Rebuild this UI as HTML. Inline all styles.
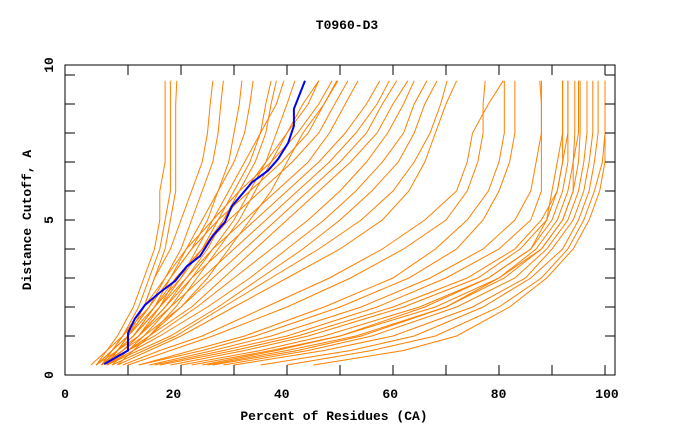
<!DOCTYPE html>
<html><head><meta charset="utf-8"><style>
html,body{margin:0;padding:0;background:#fff;}
svg{display:block;}
text{font-family:"Liberation Mono",monospace;font-weight:bold;fill:#000;}
</style></head><body>
<svg id="chart" width="680" height="440" viewBox="0 0 680 440" xmlns="http://www.w3.org/2000/svg">
<rect x="0" y="0" width="680" height="440" fill="#fff"/>
<text x="347" y="29" font-size="13" text-anchor="middle">T0960-D3</text>
<text x="334" y="420" font-size="13" text-anchor="middle">Percent of Residues (CA)</text>
<text transform="translate(31,220) rotate(-90)" font-size="13" text-anchor="middle">Distance Cutoff, A</text>
<g id="lines"></g>
<g id="axes"></g>
</svg>
<script>
const levels = [0, 0.5, 1, 2, 3, 4, 5, 6, 7, 8, 9, 9.8];
const steepSeries = [
 [4,6,8,11,13,15,16,16,17,17,17,17],
 [5,7,9,12,14,16,17,18,18,18,18,18],
 [6,8,10,13,15,17,18,19,19,19,19,19.2],
 [4,7,9,13,15,18,20,22,24,25,25.5,26],
 [5,8,10,14,17,20,22,24,26,27,27.5,28],
 [6,8,11,15,18,22,25,27,29,30,31,31.5],
 [3,6,9,14,18,21,24,27,30,32,33,33.6],
 [5,8,11,16,19,24,27,30,33,35,36,37],
 [6,9,12,17,21,25,28,31,34,36,37,38],
 [4,7,10,15,20,23,26,29,32,35,38,39.4],
 [7,10,13,18,22,26,30,33,36,38,40,41.5],
 [8,11,14,19,23,27,31,34,37,40,43,46],
 [6,10,14,20,25,29,33,37,40,43,47,49.6]
];
const midSeries = [
 [8,14,20,30,40,50,58,63,66,68,70,72],
 [7,13,19,28,37,46,54,60,64,67,69,70.2],
 [6,12,18,27,35,43,50,56,61,64,66,68.3],
 [6,11,16,25,33,40,47,53,58,62,64,66.4],
 [5,10,15,23,30,37,44,50,55,59,62,64],
 [6,10,14,22,28,34,40,46,52,57,60,62.8],
 [5,9,13,20,26,32,38,44,50,55,58,60.7],
 [5,9,12,18,24,30,36,42,48,53,57,59.3],
 [4,8,12,17,22,28,34,40,46,51,55,57.5],
 [5,8,11,16,21,26,32,38,44,48,51,53.4],
 [6,8,11,15,19,24,29,35,41,46,49,51.5],
 [5,7,10,14,18,22,27,33,39,44,47,49.4],
 [4,7,9,13,17,21,26,31,37,42,46,48.5],
 [6,9,12,16,20,24,28,32,36,40,44,46],
 [10,18,26,40,52,62,70,74,76,77,77,77.4],
 [9,16,24,36,48,58,66,72,74,75,78,80.8]
];
const fanSeries = [
 [45,62,72,82,89,94,97,99,100,100,100,100],
 [40,56,68,80,88,93,96,98,99.5,100,100,100],
 [35,52,64,77,86,92,95,97,98,98.7,98.7,98.7],
 [30,47,60,75,85,90,94,96,97,97.7,97.7,97.7],
 [28,44,56,72,83,89,93,95,96,96.6,96.6,96.6],
 [25,40,53,70,81,88,92,94,95,95.3,95.3,95.3],
 [22,37,50,68,80,87,91,93,94,94.3,94.3,94.3],
 [20,35,47,65,78,86,90,92,93,93,93,93],
 [18,32,44,62,76,84,89,91,92,92,92,92],
 [16,30,42,60,74,83,88,91,92,93,93,93],
 [15,28,40,57,70,80,86,88,88,88,88,87.7],
 [14,26,37,54,67,77,83,86,87,88,88,88],
 [12,24,34,50,63,72,77,80,82,83,83,83],
 [12,22,32,47,60,68,74,78,80,81,81,81],
 [24,38,50,66,78,86,89,90,91,92,92,92],
 [26,42,54,70,80,88,92,94,94,95,95,95]
];
const blueX = [5.5,10,10,11.3,13.2,16,18.9,21.1,23.6,26,28.3,29.6,33.4,36.4,38.3,40.2,41.3,41.3,43.4];
const blueD = [0.03,0.5,1.1,1.6,2.07,2.5,2.9,3.4,3.76,4.45,4.93,5.48,6.3,6.7,7.1,7.66,8.24,8.83,9.8];
const xTickLabels = [0,20,40,60,80,100];
const yTickLabels = [0,5,10];

const NS = "http://www.w3.org/2000/svg";
function sx(v){ return 75 + v*5.3; }
function sy(d){ return 365 - d*29; }
const lines = document.getElementById('lines');
const axes = document.getElementById('axes');

function drawSeries(arr, group){
  arr.forEach((s, i) => {
    const pts = s.map((x, k) => sx(x).toFixed(1) + ',' + sy(levels[k]).toFixed(1)).join(' ');
    const pl = document.createElementNS(NS, 'polyline');
    pl.setAttribute('points', pts);
    pl.setAttribute('fill', 'none');
    pl.setAttribute('stroke', '#ff8000');
    pl.setAttribute('stroke-width', '1');
    
    
    lines.appendChild(pl);
  });
}
drawSeries(fanSeries, 'fan');
drawSeries(midSeries, 'mid');
drawSeries(steepSeries, 'steep');

const bl = document.createElementNS(NS, 'polyline');
bl.setAttribute('points', blueX.map((x,k)=>sx(x).toFixed(1)+','+sy(blueD[k]).toFixed(1)).join(' '));
bl.setAttribute('fill', 'none');
bl.setAttribute('stroke', '#0000ff');
bl.setAttribute('stroke-width', '2');


lines.appendChild(bl);

const fr = document.createElementNS(NS, 'rect');
fr.setAttribute('x', 65); fr.setAttribute('y', 65);
fr.setAttribute('width', 550); fr.setAttribute('height', 310);
fr.setAttribute('fill', 'none'); fr.setAttribute('stroke', '#000'); fr.setAttribute('stroke-width', '1');


axes.appendChild(fr);

function tick(x1,y1,x2,y2,name){
  const l = document.createElementNS(NS, 'line');
  l.setAttribute('x1', x1); l.setAttribute('y1', y1);
  l.setAttribute('x2', x2); l.setAttribute('y2', y2);
  l.setAttribute('stroke', '#000'); l.setAttribute('stroke-width', '1');
  
  
  axes.appendChild(l);
}
for (let v = 10; v <= 100; v += 10){
  tick(sx(v), 375, sx(v), 365, 'x-tick-bottom');
  tick(sx(v), 65, sx(v), 75, 'x-tick-top');
}
for (let d = 1; d <= 10; d++){
  tick(65, sy(d), 75, sy(d), 'y-tick-left');
  tick(615, sy(d), 605, sy(d), 'y-tick-right');
}
xTickLabels.forEach(v => {
  const t = document.createElementNS(NS, 'text');
  t.setAttribute('x', 65 + v*5.42);
  t.setAttribute('y', 398);
  t.setAttribute('font-size', '13');
  t.setAttribute('text-anchor', 'middle');
  
  
  t.textContent = v;
  axes.appendChild(t);
});
yTickLabels.forEach(v => {
  const t = document.createElementNS(NS, 'text');
  const y = 375 - v*31;
  t.setAttribute('transform', 'translate(53,' + y + ') rotate(-90)');
  t.setAttribute('font-size', '13');
  t.setAttribute('text-anchor', 'middle');
  
  
  t.textContent = v;
  axes.appendChild(t);
});
</script>
</body></html>
